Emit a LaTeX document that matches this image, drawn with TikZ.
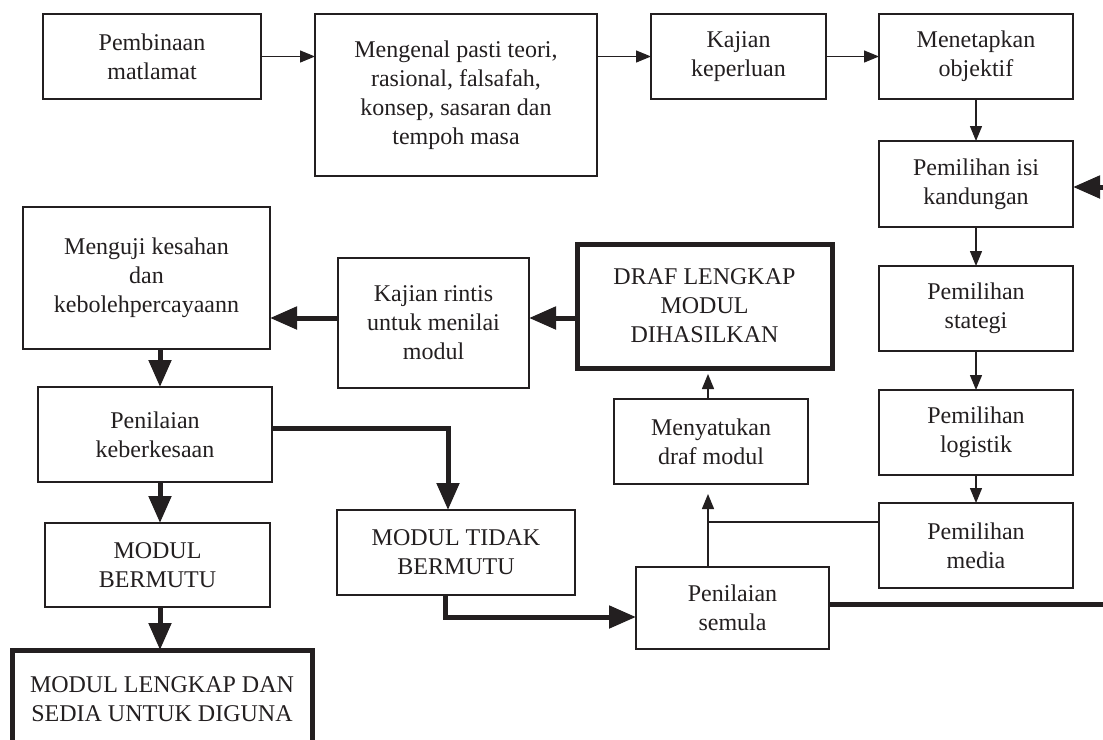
\documentclass[tikz,border=0pt]{standalone}
\usepackage{fontspec}
\setmainfont{Liberation Serif}
\usetikzlibrary{arrows.meta}
\definecolor{ink}{RGB}{35,31,32}
\begin{document}
\begin{tikzpicture}[x=1pt,y=-1pt,
  box/.style={draw=ink, line width=1.2pt, text=ink, align=center,
    font=\fontsize{24}{29}\selectfont, inner sep=0pt, outer sep=0pt},
  boldbox/.style={box, line width=5pt},
  conn/.style={draw=ink, line width=1.3pt, -{Triangle[length=15pt,width=12pt]}},
  plainline/.style={draw=ink, line width=1.3pt},
  bconn/.style={draw=ink, line width=5pt, -{Triangle[length=27pt,width=22pt]}},
]
\useasboundingbox (0,0) rectangle (1103,739);
\clip (0,0) rectangle (1103,739);
\fill[white] (0,0) rectangle (1103,739);

% top row
\node[box, minimum width=218pt, minimum height=85pt] (pemb) at (152,56.5) {Pembinaan\\matlamat};
\node[box, minimum width=282pt, minimum height=162pt] (kenal) at (456,95) {Mengenal pasti teori,\\rasional, falsafah,\\konsep, sasaran dan\\tempoh masa};
\node[box, minimum width=175pt, minimum height=85pt] (kajk) at (738.5,56.5) {Kajian\\keperluan};
\node[box, minimum width=194pt, minimum height=85pt] (tetap) at (976,56.5) {Menetapkan\\objektif};

% right column
\node[box, minimum width=194pt, minimum height=86pt] (isi) at (976,184) {Pemilihan isi\\kandungan};
\node[box, minimum width=194pt, minimum height=85pt] (strat) at (976,308.5) {Pemilihan\\stategi};
\node[box, minimum width=194pt, minimum height=85pt] (logi) at (976,432.5) {Pemilihan\\logistik};
\node[box, minimum width=194pt, minimum height=85pt] (media) at (976,545.5) {Pemilihan\\media};

% middle
\node[box, minimum width=193pt, minimum height=82pt] (semula) at (732.5,608) {Penilaian\\semula};
\node[box, minimum width=194pt, minimum height=85pt] (satu) at (711,441.5) {Menyatukan\\draf modul};
\node[boldbox, minimum width=255pt, minimum height=124pt] (draf) at (704.5,306) {DRAF LENGKAP\\MODUL\\DIHASILKAN};
\node[box, minimum width=191pt, minimum height=130pt] (rintis) at (433.5,323) {Kajian rintis\\untuk menilai\\modul};
\node[box, minimum width=238pt, minimum height=85pt] (tidak) at (456,552.5) {MODUL TIDAK\\BERMUTU};

% left column
\node[box, minimum width=247pt, minimum height=142pt] (menguji) at (146.5,278) {Menguji kesahan\\dan\\kebolehpercayaann};
\node[box, minimum width=234pt, minimum height=95pt] (nilai) at (155,434.5) {Penilaian\\keberkesaan};
\node[box, minimum width=225pt, minimum height=84pt] (bermutu) at (157.5,565) {MODUL\\BERMUTU};
\node[boldbox, minimum width=300pt, minimum height=98pt] (final) at (162,699) {MODUL LENGKAP DAN\\SEDIA UNTUK DIGUNA};

% thin connectors
\draw[conn] (pemb.east) -- (pemb.east -| kenal.west);
\draw[conn] (kajk.west -| kenal.east) -- (kajk.west);
\draw[conn] (kajk.east) -- (tetap.west);
\draw[conn] (tetap.south) -- (isi.north);
\draw[conn] (isi.south) -- (strat.north);
\draw[conn] (strat.south) -- (logi.north);
\draw[conn] (logi.south) -- (media.north);
\coordinate (j) at (708,522);
\draw[plainline] (media.west |- j) -- (j);
\draw[conn, shorten >=10pt] (semula.north -| j) -- (satu.south -| j);
\draw[conn, shorten >=6pt] (satu.north -| j) -- (draf.south -| j);

% thick connectors
\draw[bconn] (draf.west |- 0,318) -- (rintis.east |- 0,318);
\draw[bconn] (rintis.west |- 0,318) -- (menguji.east |- 0,318);
\draw[bconn] (menguji.south -| 160,0) -- (nilai.north -| 160,0);
\draw[bconn] (nilai.south -| 160,0) -- (bermutu.north -| 160,0);
\draw[bconn] (bermutu.south -| 160,0) -- (final.north -| 160,0);
\draw[bconn] (nilai.east |- 0,428) -| (tidak.north -| 448,0);
\draw[bconn] (tidak.south -| 445,0) |- (semula.west |- 0,617);
\draw[bconn] (semula.east |- 0,604) -- (1125,604) |- (isi.east |- 0,187);
\end{tikzpicture}
\end{document}
